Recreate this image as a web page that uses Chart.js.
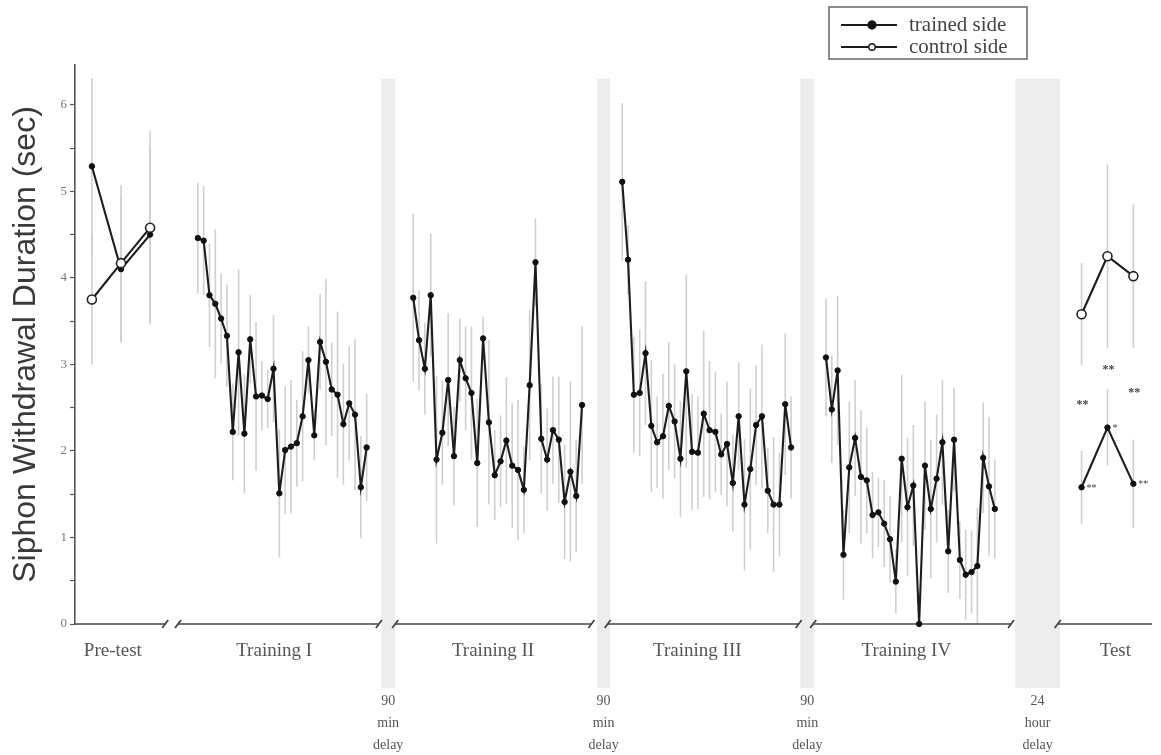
<!DOCTYPE html>
<html lang="en">
<head>
  <meta charset="UTF-8">
  <title>Siphon Withdrawal Duration</title>
  <script src="https://cdn.jsdelivr.net/npm/chart.js"></script>
  <style>
    body { margin: 0; background: #fff; }
    canvas { display: block; }
  </style>
</head>
<body>
  <canvas id="chart" width="1161" height="755"></canvas>

  <script>
    // mean withdrawal durations (sec) and their error bars
    const pretestTrained = [5.29, 4.10, 4.50];
    const pretestTrainedErr = [1.02, 0.85, 1.00];
    const pretestControl = [3.75, 4.17, 4.58];
    const pretestControlErr = [0.75, 0.90, 1.12];

    const trainingI = [4.46, 4.43, 3.80, 3.70, 3.53, 3.33, 2.22, 3.14, 2.20, 3.29, 2.63, 2.64, 2.60, 2.95, 1.51,
                       2.01, 2.05, 2.09, 2.40, 3.05, 2.18, 3.26, 3.03, 2.71, 2.65, 2.31, 2.55, 2.42, 1.58, 2.04];
    const trainingIErr = [0.64, 0.63, 0.60, 0.86, 0.52, 0.59, 0.56, 0.96, 0.69, 0.51, 0.86, 0.40, 0.34, 0.62, 0.74,
                          0.74, 0.77, 0.50, 0.75, 0.39, 0.29, 0.55, 0.96, 0.54, 0.96, 0.70, 0.66, 0.87, 0.59, 0.62];

    const trainingII = [3.77, 3.28, 2.95, 3.80, 1.90, 2.21, 2.82, 1.94, 3.05, 2.84, 2.67, 1.86, 3.30, 2.33, 1.72,
                        1.88, 2.12, 1.83, 1.78, 1.55, 2.76, 4.18, 2.14, 1.90, 2.24, 2.13, 1.41, 1.76, 1.48, 2.53];
    const trainingIIErr = [0.97, 0.58, 0.53, 0.71, 0.97, 0.60, 0.77, 0.57, 0.48, 0.60, 0.77, 0.74, 0.25, 0.95, 0.52,
                           0.53, 0.73, 0.72, 0.81, 0.50, 0.87, 0.51, 0.63, 0.59, 0.62, 0.73, 0.66, 1.04, 0.65, 0.91];

    const trainingIII = [5.11, 4.21, 2.65, 2.67, 3.13, 2.29, 2.10, 2.17, 2.52, 2.34, 1.91, 2.92, 1.99, 1.98, 2.43,
                         2.24, 2.22, 1.96, 2.08, 1.63, 2.40, 1.38, 1.79, 2.30, 2.40, 1.54, 1.38, 1.38, 2.54, 2.04];
    const trainingIIIErr = [0.91, 0.40, 0.67, 0.73, 0.83, 0.76, 0.53, 0.72, 0.74, 0.66, 0.67, 1.12, 0.67, 0.65, 0.96,
                            0.80, 0.70, 0.47, 0.72, 0.56, 0.62, 0.76, 0.93, 0.69, 0.83, 0.49, 0.78, 0.60, 0.82, 0.59];

    const trainingIV = [3.08, 2.48, 2.93, 0.80, 1.81, 2.15, 1.70, 1.66, 1.26, 1.29, 1.16, 0.98, 0.49, 1.91, 1.35,
                        1.60, 0.00, 1.83, 1.33, 1.68, 2.10, 0.84, 2.13, 0.74, 0.57, 0.60, 0.67, 1.92, 1.59, 1.33];
    const trainingIVErr = [0.68, 0.62, 0.86, 0.52, 0.76, 0.67, 0.77, 0.61, 0.50, 0.40, 0.50, 0.50, 0.37, 0.97, 0.80,
                           0.70, 0.00, 0.74, 0.80, 0.74, 0.72, 0.48, 0.60, 0.45, 0.52, 0.48, 0.67, 0.64, 0.80, 0.57];

    const testControl = [3.58, 4.25, 4.02];
    const testControlErr = [0.59, 1.06, 0.83];
    const testTrained = [1.58, 2.27, 1.62];
    const testTrainedErr = [0.42, 0.44, 0.51];

    const sessionNames = ['Pre-test', 'Training I', 'Training II', 'Training III', 'Training IV', 'Test'];
    const delayNames = [['90', 'min', 'delay'], ['90', 'min', 'delay'], ['90', 'min', 'delay'], ['24', 'hour', 'delay']];
    const yTicks = [0, 0.5, 1, 1.5, 2, 2.5, 3, 3.5, 4, 4.5, 5, 5.5, 6];
    const legendNames = ['trained side', 'control side'];
    const testSigBetween = ['**', '**', '**'];
    const testSigBetweenAt = [2.53, 2.94, 2.67];
    const testSigTrained = ['**', '*', '**'];

    // layout along the x axis, in trial-spacing units
    const sessionLayout = [
      { start: 2.9, step: 5, labelAt: 6.5, axis: [0, 15.5] },
      { start: 21.1, step: 1, labelAt: 34.2, axis: [17.7, 52.2] },
      { start: 58.1, step: 1, labelAt: 71.8, axis: [55, 88.7] },
      { start: 94.0, step: 1, labelAt: 106.9, axis: [91.5, 124.3] },
      { start: 129.0, step: 1, labelAt: 142.8, axis: [126.8, 160.8] },
      { start: 172.9, step: 4.45, labelAt: 178.7, axis: [168.8, 185] }
    ];
    const delayBands = [[52.6, 55.0], [89.7, 91.9], [124.6, 127.0], [161.5, 169.2]];

    const trained = [
      [pretestTrained, pretestTrainedErr], [trainingI, trainingIErr], [trainingII, trainingIIErr],
      [trainingIII, trainingIIIErr], [trainingIV, trainingIVErr], [testTrained, testTrainedErr]
    ];
    const control = { 0: [pretestControl, pretestControlErr], 5: [testControl, testControlErr] };

    const serif = '"Liberation Serif", "DejaVu Serif", serif';
    const lineColor = '#1d1d1d';

    function points(values, s) {
      return values.map((v, i) => ({ x: sessionLayout[s].start + i * sessionLayout[s].step, y: v }));
    }

    const datasets = [];
    trained.forEach(([vals, err], s) => {
      datasets.push({
        data: points(vals, s), err,
        borderColor: lineColor, borderWidth: 2.1,
        pointRadius: 2.7, pointBackgroundColor: '#111', pointBorderColor: '#111', pointBorderWidth: 1,
        order: 1
      });
    });
    Object.keys(control).forEach(k => {
      const s = Number(k);
      const [vals, err] = control[k];
      datasets.push({
        data: points(vals, s), err,
        borderColor: lineColor, borderWidth: 2.1,
        pointRadius: 4.5, pointBackgroundColor: '#fff', pointBorderColor: '#222', pointBorderWidth: 1.6,
        order: 0
      });
    });

    const overlay = {
      id: 'overlay',
      beforeDatasetsDraw(chart) {
        const { ctx, scales: { x, y } } = chart;
        ctx.save();
        // grey delay bands
        ctx.fillStyle = '#ececec';
        const top = y.getPixelForValue(6.3);
        delayBands.forEach(([a, b]) => {
          const x0 = x.getPixelForValue(a), x1 = x.getPixelForValue(b);
          ctx.fillRect(x0, top, x1 - x0, y.bottom + 64 - top);
        });
        // error bars
        ctx.strokeStyle = '#cfcfcf';
        ctx.lineWidth = 1.6;
        chart.data.datasets.forEach(ds => {
          ds.data.forEach((p, i) => {
            const e = ds.err[i];
            if (!e) return;
            const px = x.getPixelForValue(p.x);
            ctx.beginPath();
            ctx.moveTo(px, y.getPixelForValue(p.y + e));
            ctx.lineTo(px, y.getPixelForValue(Math.max(0, p.y - e)));
            ctx.stroke();
          });
        });
        // broken x axis
        const base = y.getPixelForValue(0);
        ctx.strokeStyle = '#444';
        sessionLayout.forEach((l, s) => {
          const a = x.getPixelForValue(l.axis[0]), b = x.getPixelForValue(l.axis[1]);
          ctx.lineWidth = 1.6;
          ctx.beginPath();
          ctx.moveTo(a, base);
          ctx.lineTo(b, base);
          ctx.stroke();
          const ends = s === 0 ? [b] : (s === sessionLayout.length - 1 ? [a] : [a, b]);
          ctx.lineWidth = 1.8;
          ends.forEach(e => {
            ctx.beginPath();
            ctx.moveTo(e - 3, base + 4);
            ctx.lineTo(e + 3, base - 4);
            ctx.stroke();
          });
        });
        ctx.restore();
      },
      afterDraw(chart) {
        const { ctx, scales: { x, y } } = chart;
        ctx.save();
        // session labels
        ctx.fillStyle = '#555';
        ctx.textAlign = 'center';
        ctx.textBaseline = 'middle';
        ctx.font = '19px ' + serif;
        sessionNames.forEach((n, s) => {
          ctx.fillText(n, x.getPixelForValue(sessionLayout[s].labelAt), y.bottom + 27);
        });
        // delay labels
        ctx.font = '14px ' + serif;
        delayNames.forEach((lines, i) => {
          const cx = x.getPixelForValue((delayBands[i][0] + delayBands[i][1]) / 2);
          lines.forEach((t, j) => ctx.fillText(t, cx, y.bottom + 77 + j * 22));
        });
        // significance marks at the test session
        ctx.fillStyle = '#444';
        ctx.font = 'bold 12px ' + serif;
        testSigBetween.forEach((t, i) => {
          const px = x.getPixelForValue(sessionLayout[5].start + i * sessionLayout[5].step);
          ctx.fillText(t, px + 1, y.getPixelForValue(testSigBetweenAt[i]));
        });
        ctx.font = '10px ' + serif;
        ctx.textAlign = 'left';
        testSigTrained.forEach((t, i) => {
          const px = x.getPixelForValue(sessionLayout[5].start + i * sessionLayout[5].step);
          ctx.fillText(t, px + 5, y.getPixelForValue(testTrained[i]) + 1);
        });
        // legend box
        const lx = 829, ly = 7, lw = 198, lh = 52;
        ctx.strokeStyle = '#666';
        ctx.lineWidth = 1.5;
        ctx.strokeRect(lx, ly, lw, lh);
        legendNames.forEach((n, i) => {
          const cy = ly + 18 + i * 22;
          ctx.strokeStyle = lineColor;
          ctx.lineWidth = 2;
          ctx.beginPath();
          ctx.moveTo(lx + 12, cy);
          ctx.lineTo(lx + 68, cy);
          ctx.stroke();
          ctx.beginPath();
          ctx.arc(lx + 43, cy, i === 0 ? 4 : 3.2, 0, Math.PI * 2);
          ctx.fillStyle = i === 0 ? '#111' : '#fff';
          ctx.fill();
          ctx.lineWidth = 1.4;
          ctx.stroke();
          ctx.fillStyle = '#444';
          ctx.font = '21px ' + serif;
          ctx.textAlign = 'left';
          ctx.textBaseline = 'middle';
          ctx.fillText(n, lx + 80, cy);
        });
        ctx.restore();
      }
    };

    new Chart(document.getElementById('chart'), {
      type: 'line',
      data: { datasets },
      options: {
        responsive: false,
        animation: false,
        layout: { padding: { top: 65, bottom: 131, right: 9, left: 0 } },
        elements: { line: { tension: 0 } },
        datasets: { line: { clip: false } },
        plugins: { legend: { display: false }, tooltip: { enabled: false } },
        scales: {
          x: { type: 'linear', min: 0, max: 185, display: false },
          y: {
            min: 0, max: 6.46,
            afterBuildTicks: scale => { scale.ticks = yTicks.map(v => ({ value: v })); },
            afterFit: scale => { scale.width = 75; },
            border: { display: true, color: '#555', width: 1.6 },
            grid: { drawOnChartArea: false, drawTicks: true, tickLength: 5, tickColor: '#555', tickWidth: 1.2 },
            ticks: {
              padding: 3, color: '#777', font: { family: serif, size: 13 },
              callback: v => Number.isInteger(v) ? v : ''
            },
            title: {
              display: true, text: 'Siphon Withdrawal Duration (sec)',
              color: '#3a3a3a', font: { family: '"Liberation Sans", Arial, sans-serif', size: 32 },
              padding: { top: 7, bottom: 0 }
            }
          }
        }
      },
      plugins: [overlay]
    });
  </script>
</body>
</html>
